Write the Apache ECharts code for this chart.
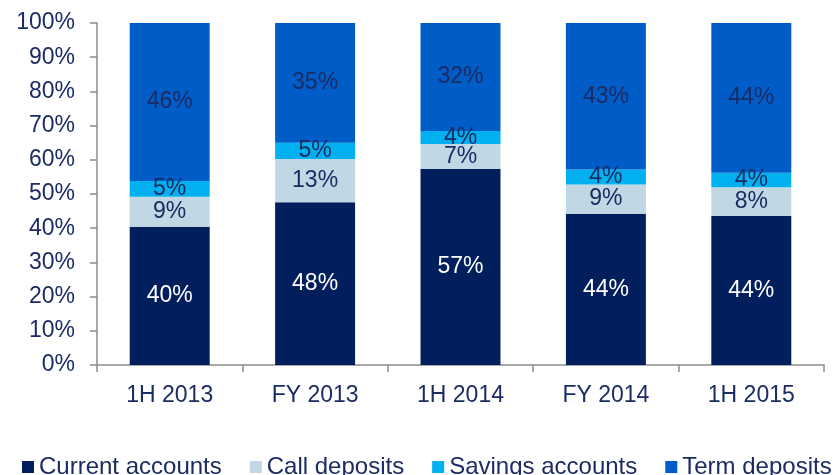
<!DOCTYPE html>
<html>
<head>
<meta charset="utf-8">
<script src="https://cdn.jsdelivr.net/npm/echarts@6/dist/echarts.min.js"></script>
<style>
  html, body { margin: 0; padding: 0; background: #fff; }
  #chart { width: 835px; height: 475px; }
</style>
</head>
<body>
<div id="chart"></div>
<script>
const periods = ['1H 2013', 'FY 2013', '1H 2014', 'FY 2014', '1H 2015']
const currentAccounts = [40.4, 47.6, 57.3, 44.2, 43.6]
const callDeposits = [8.8, 12.6, 7.3, 8.6, 8.4]
const savingsAccounts = [4.6, 4.8, 3.8, 4.4, 4.2]
const termDeposits = [46.2, 35.0, 31.6, 42.8, 43.8]

const navy = '#1b2b63'
const font = 'Liberation Sans, Arial, sans-serif'

function seg(name, data, color, labelColor) {
    return {
        name: name,
        type: 'bar',
        stack: 'total',
        barWidth: '55%',
        data: data,
        itemStyle: { color: color },
        label: {
            show: true,
            position: 'inside',
            color: labelColor,
            fontSize: 23,
            fontFamily: font,
            formatter: p => Math.round(p.value) + '%'
        }
    }
}

var myChart = echarts.init(document.getElementById('chart'))
const option = {
    animation: false,
    grid: { left: 97, right: 11, top: 23, bottom: 110 },
    legend: {
        left: 22,
        bottom: -4,
        width: 1000,
        padding: 0,
        icon: 'rect',
        itemWidth: 12,
        itemHeight: 12,
        itemGap: 28,
        textStyle: { color: navy, fontSize: 24, fontFamily: font },
        data: ['Current accounts', 'Call deposits', 'Savings accounts', 'Term deposits']
    },
    xAxis: {
        type: 'category',
        data: periods,
        axisLine: { lineStyle: { color: '#8c8c8c', width: 1.5 } },
        axisTick: { show: true, length: 7, lineStyle: { color: '#8c8c8c', width: 1.5 } },
        axisLabel: { color: navy, fontSize: 23, fontFamily: font, margin: 19 }
    },
    yAxis: {
        type: 'value',
        min: 0,
        max: 100,
        interval: 10,
        splitLine: { show: false },
        axisLine: { show: true, lineStyle: { color: '#8c8c8c', width: 1.5 } },
        axisTick: { show: true, length: 7, lineStyle: { color: '#8c8c8c', width: 1.5 } },
        axisLabel: { color: navy, fontSize: 23, fontFamily: font, margin: 22, formatter: '{value}%' }
    },
    series: [
        seg('Current accounts', currentAccounts, '#001f5c', '#ffffff'),
        seg('Call deposits', callDeposits, '#c2d7e4', navy),
        seg('Savings accounts', savingsAccounts, '#00b0ef', navy),
        seg('Term deposits', termDeposits, '#005cc7', navy)
    ]
}
myChart.setOption(option)
</script>
</body>
</html>
